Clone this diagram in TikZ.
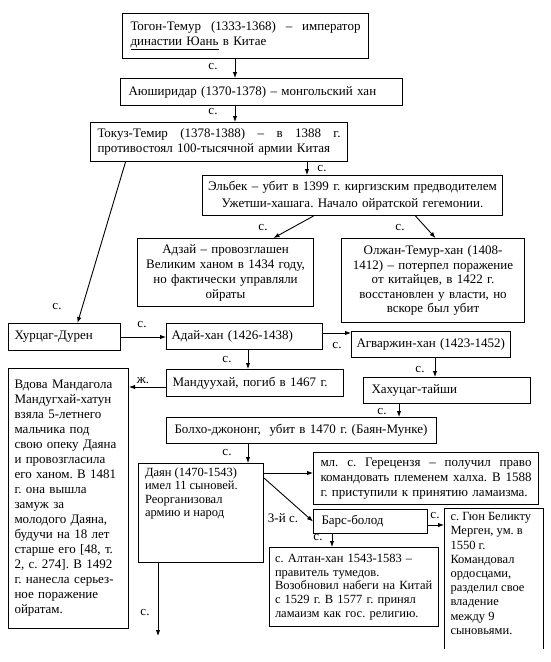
\documentclass[tikz,border=0pt]{standalone}
\usepackage{fontspec}
\setmainfont{Liberation Serif}
\usetikzlibrary{arrows.meta}
\frenchspacing
\newcommand{\fa}{\fontsize{13}{15}\selectfont}
\newcommand{\fe}{\fontsize{13}{16.5}\selectfont}
\newcommand{\fc}{\fontsize{12.5}{13.6}\selectfont}
\tikzset{
  box/.style={draw, line width=1pt, anchor=north west, inner sep=0pt, font=\fa},
  arr/.style={-{Latex[length=6pt,width=4.5pt]}, line width=0.9pt},
  lab/.style={inner sep=0pt, font=\fa}
}
\begin{document}
\frenchspacing
\begin{tikzpicture}[x=1pt,y=-1pt]
\useasboundingbox (0,0) rectangle (550,662);
% boxes
\node[box, minimum width=246pt, minimum height=45pt, text width=230pt, align=left] (tog) at (122,13)
  {Тогон-Темур\hfill(1333-1368)\hfill–\hfill император\\\underline{династии Юань} в Китае};
\node[box, minimum width=282pt, minimum height=27pt, text width=266pt, align=left] (ayu) at (120,78)
  {Аюширидар (1370-1378) – монгольский хан};
\node[box, minimum width=257pt, minimum height=39pt, text width=243pt, align=left] (tok) at (90,122)
  {Токуз-Темир\hfill(1378-1388)\hfill–\hfill в\hfill 1388\hfill г.\\противостоял 100-тысячной армии Китая};
\node[box, font=\fe, minimum width=300pt, minimum height=40pt, text width=296pt, align=center] (elb) at (202,175)
  {Эльбек – убит в 1399 г. киргизским предводителем\\Ужетши-хашага. Начало ойратской гегемонии.};
\node[box, minimum width=176pt, minimum height=68pt, text width=170pt, align=center] (adz) at (137,238)
  {Адзай – провозглашен\\Великим ханом в 1434 году,\\но фактически управляли\\ойраты};
\node[box, font=\fontsize{13}{14.6}\selectfont, minimum width=183pt, minimum height=84pt, text width=177pt, align=center] (olj) at (341,238)
  {Олжан-Темур-хан (1408-\\1412) – потерпел поражение\\от китайцев, в 1422 г.\\восстановлен у власти, но\\вскоре был убит};
\node[box, minimum width=112pt, minimum height=27pt, text width=100pt, align=left] (khu) at (8,323)
  {Хурцаг-Дурен};
\node[box, minimum width=156pt, minimum height=26pt, text width=146pt, align=left] (ada) at (166,323)
  {Адай-хан (1426-1438)};
\node[box, minimum width=159pt, minimum height=26pt, text width=153pt, align=left] (agv) at (351,331)
  {\hspace*{2pt}Агваржин-хан (1423-1452)};
\node[box, minimum width=177pt, minimum height=27pt, text width=165pt, align=left] (man) at (166,369)
  {Мандуухай, погиб в 1467 г.};
\node[box, minimum width=167pt, minimum height=26pt, text width=151pt, align=left] (kha) at (363,377)
  {Хахуцаг-тайши};
\node[box, minimum width=120pt, minimum height=260pt, text width=108pt, align=left] (vdo) at (8,368)
  {Вдова Мандагола\\Мандугхай-хатун\\взяла 5-летнего\\мальчика под\\свою опеку Даяна\\и провозгласила\\его ханом. В 1481\\г. она вышла\\замуж за\\молодого Даяна,\\будучи на 18 лет\\старше его [48, т.\\2, с. 274]. В 1492\\г. нанесла серьез-\\ное поражение\\ойратам.};
\node[box, minimum width=270pt, minimum height=26pt, text width=254pt, align=left] (bol) at (166,417)
  {Болхо-джононг,\ \ убит в 1470 г. (Баян-Мунке)};
\node[box, font=\fc, minimum width=125pt, minimum height=99pt] (day) at (138,463)
  {\parbox[c][91pt][t]{112pt}{\raggedright Даян (1470-1543)\\имел 11 сыновей.\\Реорганизовал\\армию и народ}};
\node[box, minimum width=225pt, minimum height=52pt, text width=211pt, align=left] (ger) at (313,452)
  {мл.\hfill с.\hfill Герецензя\hfill –\hfill получил\hfill право\\командовать\hfill племенем\hfill халха.\hfill В\hfill 1588\\г. приступили к принятию ламаизма.};
\node[box, minimum width=114pt, minimum height=24pt, text width=98pt, align=left] (bar) at (313,509)
  {Барс-болод};
\node[box, font=\fontsize{12.5}{13.7}\selectfont, minimum width=169pt, minimum height=79pt, text width=158pt, align=left] (alt) at (269,547)
  {с. Алтан-хан 1543-1583 –\\правитель тумедов.\\Возобновил набеги на Китай\\с 1529 г. В 1577 г. принял\\ламаизм как гос. религию.};
\node[box, draw=none, font=\fontsize{12.5}{14.2}\selectfont, minimum width=98pt, minimum height=140pt] (gyu) at (444,508)
  {\parbox[c][132pt][t]{86pt}{\raggedright с. Гюн Беликту\\Мерген, ум. в\\1550 г.\\Командовал\\ордосцами,\\разделил свое\\владение\\между 9\\сыновьями.}};
\draw[line width=1pt] (gyu.south west) -- (gyu.north west) -- (gyu.north east) -- (gyu.south east);
% connectors
\coordinate (xa) at (235,0);
\coordinate (xb) at (307,0);
\coordinate (yc) at (0,333);
\coordinate (xd) at (248,0);
\coordinate (ye) at (0,387);
\coordinate (xf) at (435,0);
\coordinate (xg) at (399,0);
\coordinate (yh) at (0,473);
\coordinate (yi) at (0,478);
\coordinate (yj) at (0,525);
\coordinate (xk) at (332,0);
\coordinate (dend) at (158,636);
\draw[arr] (tog.south -| xa) -- (ayu.north -| xa);
\draw[arr] (ayu.south -| xa) -- (tok.north -| xa);
\draw[arr] (tok.south -| xb) -- (elb.north -| xb);
\draw[arr] ([xshift=-39pt]elb.south) -- ([xshift=48pt]adz.north);
\draw[arr] ([xshift=63pt]elb.south) -- ([xshift=2.5pt]olj.north);
\draw[arr] ([xshift=-93.5pt]tok.south) -- ([xshift=13pt]khu.north);
\draw[arr] (khu.east) -- (ada.west |- khu.east);
\draw[arr] (ada.east |- yc) -- (agv.west |- yc);
\draw[arr] (ada.south -| xd) -- (man.north -| xd);
\draw[arr] (man.west |- ye) -- (vdo.east |- ye);
\draw[arr] (agv.south -| xf) -- (kha.north -| xf);
\draw[arr] (kha.south -| xg) -- (bol.north -| xg);
\draw[arr] (bol.south -| xd) -- (day.north -| xd);
\draw[arr] (day.east |- yh) -- (ger.west |- yh);
\draw[arr] (day.east |- yi) -- (bar.west);
\draw[arr] (bar.east |- yj) -- (gyu.west |- yj);
\draw[arr] (bar.south -| xk) -- (alt.north -| xk);
\draw[arr] (day.south -| dend) -- (dend);
% labels
\node[lab] (l1) at (213,67) {с.};
\node[lab] (l2) at (213,112) {с.};
\node[lab] (l3) at (322,169) {с.};
\node[lab] (l4) at (263,228) {с.};
\node[lab] (l5) at (400,228) {с.};
\node[lab] (l6) at (57,307) {с.};
\node[lab] (l7) at (142,325) {с.};
\node[lab] (l8) at (337,346) {с.};
\node[lab] (l9) at (227,360) {с.};
\node[lab] (l10) at (143,381) {ж.};
\node[lab] (l11) at (420,370) {с.};
\node[lab] (l12) at (382,412) {с.};
\node[lab] (l13) at (227,453) {с.};
\node[lab] (l14) at (283,518) {3-й с.};
\node[lab] (l15) at (435,516) {с.};
\node[lab] (l16) at (318,538) {с.};
\node[lab] (l17) at (145,613) {с.};
\end{tikzpicture}
\end{document}
